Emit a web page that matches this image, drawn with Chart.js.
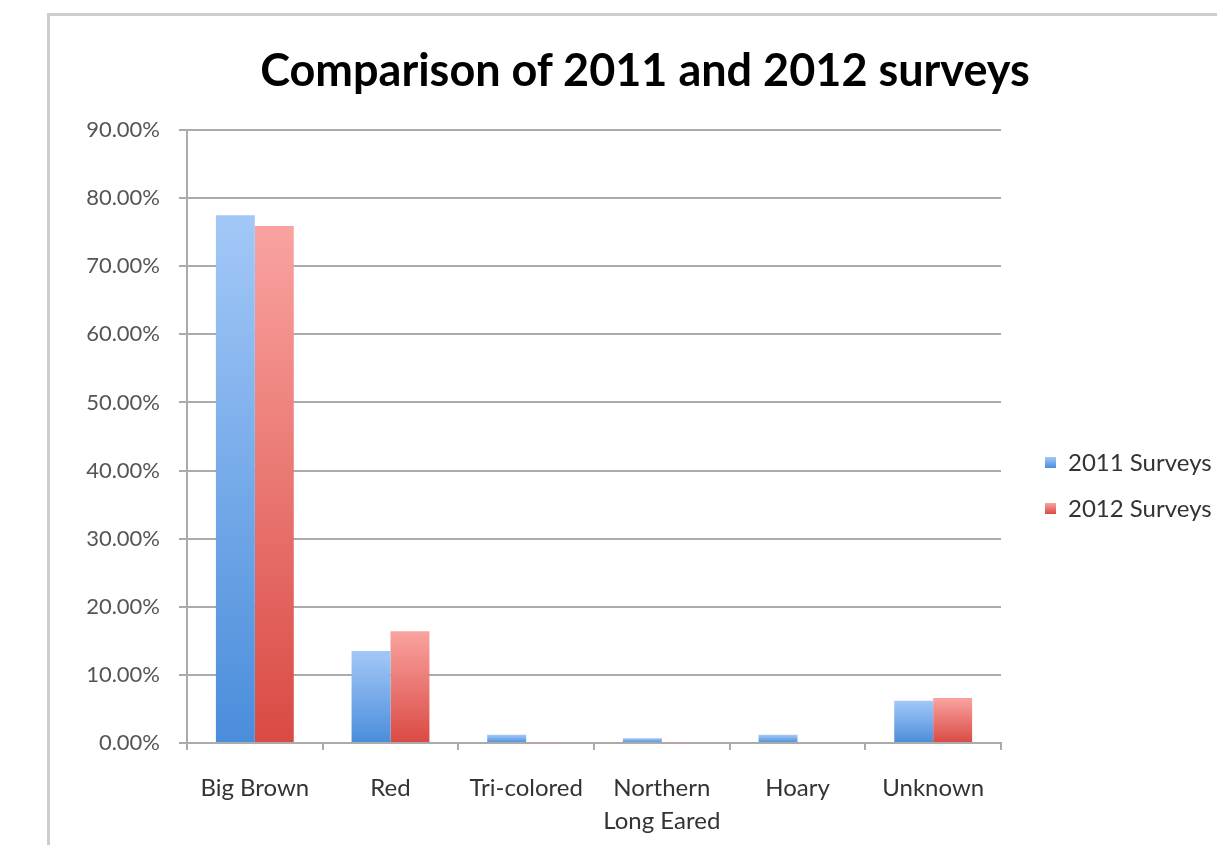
<!DOCTYPE html>
<html>
<head>
<meta charset="utf-8">
<script src="https://cdn.jsdelivr.net/npm/chart.js@4/dist/chart.umd.min.js"></script>
<style>
  html, body { margin: 0; padding: 0; background: #fff; overflow: hidden; }
  body { width: 1217px; height: 845px; position: relative; font-family: Lato, "Open Sans", sans-serif; }
  #frame { position: absolute; left: 47px; top: 13px; width: 1300px; height: 900px;
           border-top: 3px solid #cdcdcd; border-left: 3px solid #cdcdcd; box-sizing: border-box; }
  #wrap { position: absolute; left: 0; top: 0; width: 1217px; height: 845px; }
  #title { position: absolute; top: 41px; left: 645px; transform: translateX(-50%); white-space: nowrap;
           font-weight: bold; font-size: 45px; color: #000; line-height: 56px; }
  .legend { position: absolute; left: 1045px; font-size: 24px; color: #333; white-space: nowrap; }
  .legend span.box { display: inline-block; width: 11px; height: 11px; margin-right: 12px; vertical-align: middle; position: relative; top: -2px; }
</style>
</head>
<body>
<div id="frame"></div>
<div id="wrap"><canvas id="chart"></canvas></div>
<div id="title">Comparison of 2011 and 2012 surveys</div>
<div class="legend" id="leg2011" style="top:447px"><span class="box" style="background:linear-gradient(#a3c8f7,#4a8ddb)"></span>2011 Surveys</div>
<div class="legend" id="leg2012" style="top:493px"><span class="box" style="background:linear-gradient(#f9a3a0,#da4a44)"></span>2012 Surveys</div>
<script>
// Data
const categories = ['Big Brown', 'Red', 'Tri-colored', ['Northern', 'Long Eared'], 'Hoary', 'Unknown'];
const surveys2011 = [77.5, 13.5, 1.2, 0.7, 1.2, 6.2];
const surveys2012 = [75.9, 16.4, 0.1, 0.1, 0, 6.6];
const yMax = 90;
const yStep = 10;

// per-bar vertical gradient, light at the top, dark at the base
function barGradient(light, dark) {
    return ctx => {
        const chart = ctx.chart;
        const y = chart.scales.y;
        if (ctx.type !== 'data' || !y) return dark;
        const top = y.getPixelForValue(ctx.raw);
        const base = y.getPixelForValue(0);
        if (!(base - top > 0.5)) return dark;
        const g = chart.ctx.createLinearGradient(0, top, 0, base);
        g.addColorStop(0, light);
        g.addColorStop(1, dark);
        return g;
    };
}

const gridColor = '#ababab';

new Chart(document.getElementById('chart').getContext('2d'), {
    type: 'bar',
    data: {
        labels: categories,
        datasets: [{
            label: '2011 Surveys',
            data: surveys2011,
            backgroundColor: barGradient('#a3c8f7', '#4a8ddb')
        }, {
            label: '2012 Surveys',
            data: surveys2012,
            backgroundColor: barGradient('#f9a3a0', '#da4a44')
        }]
    },
    options: {
        responsive: true,
        maintainAspectRatio: false,
        animation: false,
        categoryPercentage: 0.574,
        barPercentage: 1.0,
        layout: {
            padding: { top: 130, right: 216, bottom: 0, left: 0 }
        },
        plugins: {
            legend: { display: false },
            title: { display: false },
            tooltip: { enabled: false }
        },
        scales: {
            x: {
                afterFit: s => { s.height = 102; },
                grid: {
                    offset: true,
                    drawOnChartArea: false,
                    drawTicks: true,
                    tickLength: 7,
                    color: gridColor,
                    lineWidth: 2
                },
                border: { color: gridColor, width: 2 },
                ticks: {
                    padding: 22,
                    maxRotation: 0,
                    autoSkip: false,
                    color: '#333',
                    font: { family: 'Lato', size: 24, lineHeight: 1.38 }
                }
            },
            y: {
                min: 0,
                max: yMax,
                afterFit: s => { s.width = 187; },
                grid: {
                    color: gridColor,
                    lineWidth: 2,
                    drawTicks: true,
                    tickLength: 8
                },
                border: { color: gridColor, width: 2 },
                ticks: {
                    stepSize: yStep,
                    padding: 19,
                    color: '#555',
                    font: { family: 'Lato', size: 22 },
                    callback: v => v.toFixed(2) + '%'
                }
            }
        }
    }
});
</script>
</body>
</html>
